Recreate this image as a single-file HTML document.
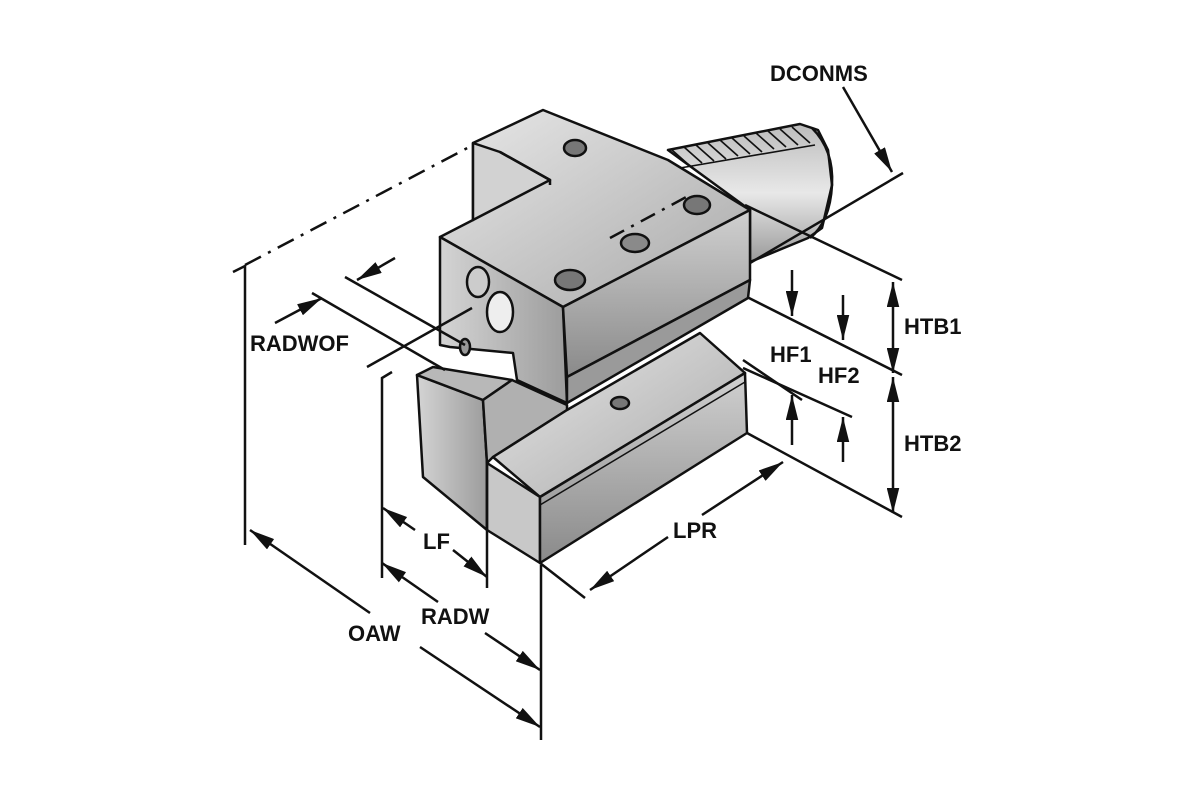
<!DOCTYPE html>
<html><head><meta charset="utf-8"><style>
html,body{margin:0;padding:0;background:#fff}
svg{display:block}
text{font-family:"Liberation Sans",sans-serif;font-weight:bold;font-size:22px;fill:#111}
</style></head><body>
<svg width="1200" height="800" viewBox="0 0 1200 800" xmlns="http://www.w3.org/2000/svg">
<defs>
<linearGradient id="g1" x1="0" y1="0" x2="1" y2="1"><stop offset="0" stop-color="#e8e8e8"/><stop offset="1" stop-color="#a8a8a8"/></linearGradient>
<linearGradient id="g2" x1="0" y1="0" x2="1" y2="0"><stop offset="0" stop-color="#d4d4d4"/><stop offset="1" stop-color="#9c9c9c"/></linearGradient>
<linearGradient id="g3" x1="0" y1="0" x2="0" y2="1"><stop offset="0" stop-color="#d0d0d0"/><stop offset="1" stop-color="#8a8a8a"/></linearGradient>
<linearGradient id="gs" x1="0" y1="0" x2="0" y2="1"><stop offset="0" stop-color="#bcbcbc"/><stop offset="0.5" stop-color="#e8e8e8"/><stop offset="1" stop-color="#9a9a9a"/></linearGradient>
<marker id="ah" viewBox="0 0 20 10" refX="20" refY="5" markerWidth="10" markerHeight="5" orient="auto-start-reverse"><path d="M0,0 L20,5 L0,10 Z" fill="#111"/></marker>
</defs>
<g stroke="#111" stroke-width="2.5" stroke-linejoin="round">
<!-- shank -->
<polygon points="668,150 800,124 818,130 828,150 832,185 822,228 808,238 750,262 750,210" fill="url(#gs)"/>
<path d="M812,128 Q834,150 832,185 Q830,222 810,238" fill="none"/>
<g stroke-width="1.6">
<line x1="672" y1="150" x2="690" y2="166"/><line x1="684" y1="147" x2="702" y2="163"/><line x1="696" y1="145" x2="714" y2="161"/><line x1="708" y1="143" x2="726" y2="159"/><line x1="720" y1="140" x2="738" y2="156"/><line x1="732" y1="138" x2="750" y2="154"/><line x1="744" y1="136" x2="762" y2="152"/><line x1="756" y1="133" x2="774" y2="149"/><line x1="768" y1="131" x2="786" y2="147"/><line x1="780" y1="129" x2="798" y2="145"/><line x1="792" y1="127" x2="810" y2="143"/>
<line x1="680" y1="168" x2="815" y2="145"/>
</g>
<!-- upper block top -->
<polygon points="440,237 563,307 750,210 668,160 543,110 473,143 473,220" fill="url(#g1)"/>
<polygon points="473,143 500,152 550,180 473,220" fill="#d2d2d2"/>
<polyline points="500,152 550,180 550,185" fill="none"/>
<!-- end face upper block -->
<polygon points="440,237 563,307 567,403 517,380 513,353 450,347 440,345" fill="url(#g2)"/>
<!-- side face upper block -->
<polygon points="563,307 750,210 750,280 567,377" fill="url(#g3)"/>
<polygon points="567,377 750,280 748,298 567,403" fill="#9a9a9a"/>
<!-- lower block -->
<polygon points="417,375 483,400 487,463 487,530 423,477" fill="url(#g2)"/>
<polygon points="417,375 433,367 512,380 483,400" fill="#b8b8b8"/>
<polygon points="483,400 512,380 567,405 567,410 493,457 487,463" fill="#b0b0b0"/>
<polygon points="493,457 540,497 745,373 700,333 567,410" fill="url(#g1)"/>
<polygon points="487,463 540,497 540,563 487,530" fill="#c8c8c8"/>
<polygon points="540,497 745,373 747,433 540,563" fill="url(#g3)"/>
<line x1="540" y1="505" x2="745" y2="382" stroke-width="1.5"/>
<!-- holes -->
<ellipse cx="575" cy="148" rx="11" ry="8" fill="#777"/>
<ellipse cx="697" cy="205" rx="13" ry="9" fill="#777"/>
<ellipse cx="570" cy="280" rx="15" ry="10" fill="#777"/>
<ellipse cx="635" cy="243" rx="14" ry="9" fill="#8a8a8a"/>
<ellipse cx="620" cy="403" rx="9" ry="6" fill="#777"/>
<ellipse cx="478" cy="282" rx="11" ry="15" fill="#ccc"/>
<ellipse cx="500" cy="312" rx="13" ry="20" fill="#eee"/>
<ellipse cx="465" cy="347" rx="5" ry="8" fill="#999"/>
</g>
<!-- dimension lines -->
<g stroke="#111" stroke-width="2.5" fill="none">
<line x1="245" y1="265" x2="473" y2="145" stroke-dasharray="18,8,3,8"/>
<polyline points="233,272 245,266 245,545"/>
<polyline points="392,372 382,378 382,578"/>
<line x1="487" y1="460" x2="487" y2="588"/>
<line x1="541" y1="565" x2="541" y2="740"/>
<line x1="250" y1="530" x2="370" y2="613" marker-start="url(#ah)"/>
<line x1="420" y1="647" x2="540" y2="727" marker-end="url(#ah)"/>
<line x1="382" y1="563" x2="438" y2="602" marker-start="url(#ah)"/>
<line x1="485" y1="633" x2="540" y2="670" marker-end="url(#ah)"/>
<line x1="383" y1="508" x2="415" y2="530" marker-start="url(#ah)"/>
<line x1="453" y1="550" x2="487" y2="577" marker-end="url(#ah)"/>
<line x1="540" y1="563" x2="585" y2="598"/>
<line x1="747" y1="433" x2="902" y2="517"/>
<line x1="702" y1="515" x2="783" y2="462" marker-end="url(#ah)"/>
<line x1="668" y1="537" x2="590" y2="590" marker-end="url(#ah)"/>
<line x1="843" y1="87" x2="892" y2="172" marker-end="url(#ah)"/>
<line x1="903" y1="173" x2="750" y2="263"/>
<line x1="745" y1="205" x2="902" y2="280"/>
<line x1="747" y1="297" x2="902" y2="375"/>
<line x1="743" y1="360" x2="802" y2="400"/>
<line x1="743" y1="368" x2="852" y2="417"/>
<line x1="893" y1="282" x2="893" y2="373" marker-start="url(#ah)" marker-end="url(#ah)"/>
<line x1="893" y1="377" x2="893" y2="513" marker-start="url(#ah)" marker-end="url(#ah)"/>
<line x1="792" y1="270" x2="792" y2="316" marker-end="url(#ah)"/>
<line x1="843" y1="295" x2="843" y2="340" marker-end="url(#ah)"/>
<line x1="792" y1="445" x2="792" y2="395" marker-end="url(#ah)"/>
<line x1="843" y1="462" x2="843" y2="417" marker-end="url(#ah)"/>
<line x1="275" y1="323" x2="322" y2="298" marker-end="url(#ah)"/>
<line x1="395" y1="258" x2="357" y2="280" marker-end="url(#ah)"/>
<line x1="312" y1="293" x2="445" y2="370"/>
<line x1="345" y1="277" x2="465" y2="345"/>
<line x1="367" y1="367" x2="472" y2="308"/>
<line x1="610" y1="238" x2="690" y2="195" stroke-dasharray="16,8,3,8"/>
</g>
<text x="770" y="81">DCONMS</text>
<text x="904" y="334">HTB1</text>
<text x="904" y="451">HTB2</text>
<text x="770" y="362">HF1</text>
<text x="818" y="383">HF2</text>
<text x="250" y="351">RADWOF</text>
<text x="423" y="549">LF</text>
<text x="673" y="538">LPR</text>
<text x="421" y="624">RADW</text>
<text x="348" y="641">OAW</text>
</svg>
</body></html>
